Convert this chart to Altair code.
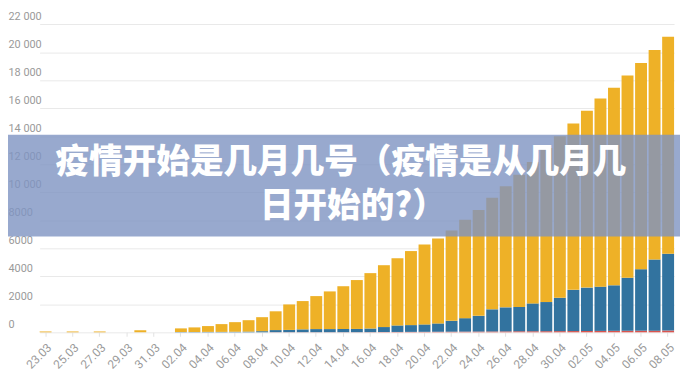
import altair as alt
import pandas as pd

dates = ["23.03", "24.03", "25.03", "26.03", "27.03", "28.03", "29.03", "30.03", "31.03",
         "01.04", "02.04", "03.04", "04.04", "05.04", "06.04", "07.04", "08.04", "09.04",
         "10.04", "11.04", "12.04", "13.04", "14.04", "15.04", "16.04", "17.04", "18.04",
         "19.04", "20.04", "21.04", "22.04", "23.04", "24.04", "25.04", "26.04", "27.04",
         "28.04", "29.04", "30.04", "01.05", "02.05", "03.05", "04.05", "05.05", "06.05",
         "07.05", "08.05"]

cases = [60, 0, 60, 0, 60, 0, 0, 150, 0,
         0, 280, 350, 445, 585, 725, 865, 1080, 1500,
         1990, 2230, 2585, 2920, 3290, 3730, 4225, 4790, 5280,
         5800, 6270, 6690, 7275, 8030, 8730, 9600, 10420, 11250,
         12150, 13150, 14000, 14910, 15825, 16690, 17465, 18330, 19225,
         20160, 21105]

recovered = [0, 0, 0, 0, 0, 0, 0, 0, 0,
             0, 20, 20, 30, 30, 40, 50, 80, 150,
             160, 200, 220, 220, 225, 230, 255, 355, 465,
             485, 530, 595, 775, 960, 1120, 1580, 1715, 1740,
             1990, 2080, 2380, 2940, 3095, 3160, 3250, 3785, 4390,
             5070, 5485]

deaths = [0, 0, 0, 0, 0, 0, 0, 0, 0,
          0, 0, 0, 0, 0, 0, 0, 0, 10,
          10, 10, 10, 10, 10, 10, 15, 20, 25,
          30, 35, 40, 45, 50, 55, 60, 65, 70,
          75, 80, 85, 90, 95, 100, 105, 110, 115,
          120, 125]

series_names = ["deaths", "recovered", "active"]
series_colors = ["#D9554F", "#32739F", "#EEB127"]
y_ticks = list(range(0, 22001, 2000))
x_labels = dates[::2]
title_lines = ["疫情开始是几月几号（疫情是从几月几", "日开始的?）"]

rows = []
for i, d in enumerate(dates):
    rows.append({"date": d, "series": "deaths", "value": deaths[i], "order": 0})
    rows.append({"date": d, "series": "recovered", "value": recovered[i], "order": 1})
    rows.append({"date": d, "series": "active",
                 "value": max(cases[i] - recovered[i] - deaths[i], 0), "order": 2})
df = pd.DataFrame(rows)

W, H = 680, 326

bars = alt.Chart(df).mark_bar().encode(
    x=alt.X("date:N", sort=dates, title=None,
            scale=alt.Scale(range=[32, 674], paddingInner=0.12, paddingOuter=0),
            axis=alt.Axis(values=x_labels, labelAngle=315, labelAlign="right",
                          labelBaseline="middle", labelPadding=9, labelOffset=4,
                          labelColor="#9a9a9a", labelFont="Roboto", labelFontSize=12,
                          domain=False, ticks=True, tickColor="#e2e2e2", tickSize=4,
                          grid=False, labelOverlap=False)),
    y=alt.Y("value:Q", stack="zero", title=None,
            scale=alt.Scale(domain=[0, 23000], nice=False),
            axis=alt.Axis(values=y_ticks, grid=True, gridColor="#e9e9e9", domain=False,
                          ticks=False, tickSize=0, labelAlign="left", labelBaseline="bottom",
                          labelPadding=0, labelOffset=-3, labelColor="#9a9a9a",
                          labelFont="Roboto", labelFontSize=11,
                          labelExpr="datum.value >= 10000 ? replace(format(datum.value, ','), ',', ' ') : format(datum.value, 'd')")),
    color=alt.Color("series:N", scale=alt.Scale(domain=series_names, range=series_colors),
                    legend=None),
    order=alt.Order("order:Q", sort="ascending"),
)

band = alt.Chart(pd.DataFrame({"a": [0]})).mark_rect(color="#7E93C2", opacity=0.8).encode(
    x=alt.value(0), x2=alt.value(W), y=alt.value(126), y2=alt.value(229)
)

text1 = alt.Chart(pd.DataFrame({"t": [title_lines[0]]})).mark_text(
    font="Noto Sans CJK SC", fontWeight=900, fontSize=34, color="white",
    align="center", baseline="middle"
).encode(x=alt.value(337), y=alt.value(155), text="t:N")

text2 = alt.Chart(pd.DataFrame({"t": [title_lines[1]]})).mark_text(
    font="Noto Sans CJK SC", fontWeight=900, fontSize=34, color="white",
    align="center", baseline="middle"
).encode(x=alt.value(349), y=alt.value(199), text="t:N")

chart = alt.layer(bars, band, text1, text2).properties(
    width=W, height=H,
    autosize=alt.AutoSizeParams(type="none"),
    padding={"left": 0, "top": 0, "right": 0, "bottom": 38},
).configure_view(stroke=None)

chart.save("out.html", embed_options={"renderer": "svg", "actions": False})
